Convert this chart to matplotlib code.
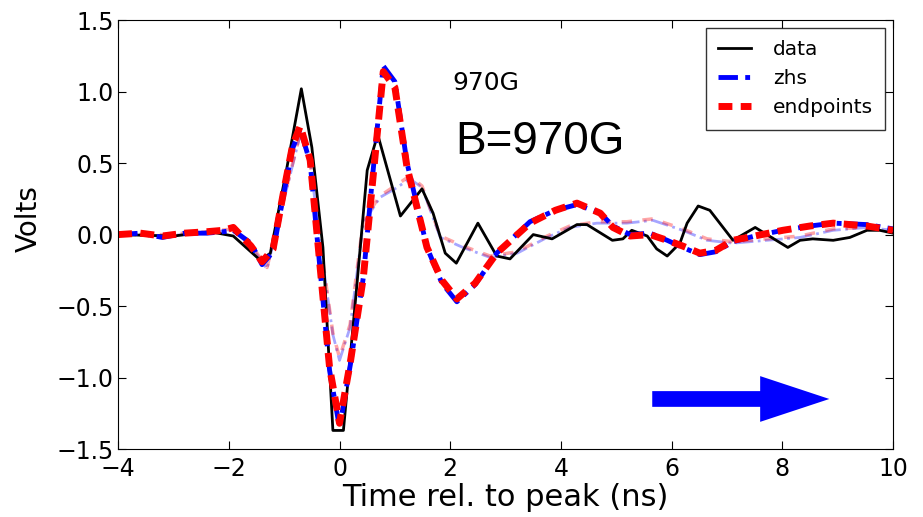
import matplotlib
matplotlib.use("Agg")
import matplotlib.pyplot as plt
from matplotlib.patches import FancyArrow

# measured pulse
t_data = [-4.0, -3.0, -2.34, -1.92, -1.43, -1.25, -0.95, -0.69, -0.5, -0.3, -0.12, 0.07,
          0.3, 0.5, 0.69, 1.1, 1.49, 1.69, 1.91, 2.11, 2.5, 2.84, 3.08, 3.5, 3.84,
          4.29, 4.47, 4.93, 5.12, 5.28, 5.56, 5.73, 5.92, 6.15, 6.28, 6.48, 6.69,
          7.11, 7.51, 8.1, 8.32, 8.55, 8.92, 9.22, 9.53, 9.76, 10.0]
v_data = [0.0, -0.01, 0.02, -0.01, -0.18, -0.13, 0.47, 1.02, 0.61, -0.09, -1.37, -1.37,
          -0.41, 0.45, 0.7, 0.13, 0.32, 0.15, -0.13, -0.2, 0.08, -0.15, -0.17, 0.0, -0.03,
          0.07, 0.07, -0.04, -0.03, 0.03, -0.01, -0.1, -0.15, -0.06, 0.08, 0.2, 0.17,
          -0.04, 0.05, -0.09, -0.04, -0.03, -0.04, -0.02, 0.03, 0.03, 0.01]

# simulations at B=970G
t_sim = [-4.0, -3.6, -3.2, -2.8, -2.4, -2.1, -1.92, -1.6, -1.4, -1.2, -1.02, -0.85,
         -0.71, -0.53, -0.35, -0.18, 0.0, 0.2, 0.43, 0.6, 0.79, 1.0, 1.22, 1.58, 1.85,
         2.12, 2.45, 2.84, 3.44, 3.9, 4.29, 4.71, 4.94, 5.25, 5.61, 5.92, 6.2, 6.51,
         6.8, 7.11, 7.5, 8.01, 8.5, 8.92, 9.53, 10.0]
v_zhs = [0.0, 0.01, -0.02, 0.01, 0.01, 0.02, 0.03, -0.06, -0.21, -0.12, 0.26, 0.6,
         0.74, 0.5, -0.25, -0.95, -1.35, -0.9, -0.3, 0.42, 1.18, 1.07, 0.5, -0.09, -0.34,
         -0.47, -0.35, -0.13, 0.09, 0.17, 0.21, 0.15, 0.06, 0.0, 0.01, -0.04, -0.09, -0.14,
         -0.12, -0.05, -0.01, 0.03, 0.06, 0.08, 0.07, 0.04]
v_end = [0.0, 0.01, -0.01, 0.01, 0.02, 0.03, 0.05, -0.08, -0.19, -0.1, 0.28, 0.62,
         0.76, 0.52, -0.23, -0.93, -1.32, -0.88, -0.3, 0.38, 1.14, 1.03, 0.47, -0.09, -0.32,
         -0.45, -0.34, -0.13, 0.08, 0.17, 0.22, 0.15, 0.05, -0.01, 0.0, -0.04, -0.08, -0.13,
         -0.11, -0.04, -0.01, 0.03, 0.06, 0.08, 0.06, 0.03]

# simulations, second set (faint)
t_sim2 = [-4.0, -3.2, -2.4, -1.92, -1.6, -1.31, -1.0, -0.71, -0.53, -0.3, -0.12, 0.0,
          0.19, 0.43, 0.73, 1.0, 1.27, 1.49, 1.82, 2.23, 2.72, 3.21, 3.75, 4.16, 4.65,
          5.19, 5.66, 6.2, 6.64, 7.11, 7.72, 8.32, 8.92, 9.53, 10.0]
v_zhs2 = [0.0, -0.01, 0.01, 0.03, -0.08, -0.24, 0.25, 0.7, 0.5, -0.2, -0.7, -0.88,
          -0.65, 0.08, 0.26, 0.32, 0.39, 0.33, -0.02, -0.09, -0.16, -0.13, -0.02, 0.05, 0.08,
          0.08, 0.1, 0.03, -0.04, -0.06, -0.04, -0.02, 0.03, 0.05, 0.03]
v_end2 = [0.0, 0.0, 0.02, 0.04, -0.07, -0.23, 0.26, 0.71, 0.51, -0.19, -0.69, -0.86,
          -0.63, 0.1, 0.27, 0.34, 0.41, 0.34, -0.01, -0.08, -0.15, -0.12, -0.01, 0.06, 0.09,
          0.09, 0.11, 0.04, -0.03, -0.05, -0.03, -0.01, 0.04, 0.05, 0.03]

fig = plt.figure(figsize=(9.23, 5.17), dpi=100)
ax = fig.add_axes([0.128, 0.1315, 0.8395, 0.8295])

ax.plot(t_sim2, v_zhs2, color="blue", lw=2, ls="-.", alpha=0.35)
ax.plot(t_sim2, v_end2, color="red", lw=2.5, ls="--", dashes=(3, 3), alpha=0.35)
ax.plot(t_data, v_data, color="black", lw=2, label="data")
ax.plot(t_sim, v_zhs, color="blue", lw=3.5, ls="-.", dashes=(4, 1.5, 1, 1.5),
        label="zhs")
ax.plot(t_sim, v_end, color="red", lw=5, ls="--", dashes=(2, 1.2), label="endpoints")

ax.set_xlim(-4, 10)
ax.set_ylim(-1.5, 1.5)
ax.set_xticks(range(-4, 11, 2))
ax.set_yticks([-1.5, -1.0, -0.5, 0.0, 0.5, 1.0, 1.5])
ax.tick_params(direction="in", top=True, right=True, labelsize=17, length=6)
ax.tick_params(axis="x", pad=6)
ax.tick_params(axis="y", pad=3)
ax.set_xlabel("Time rel. to peak (ns)", fontsize=22, labelpad=1)
ax.set_ylabel("Volts", fontsize=20)
ax.yaxis.set_label_coords(-0.097, 0.538)

ax.text(2.03, 1.01, "970G", fontsize=18)
ax.text(2.09, 0.566, "B=970G", fontsize=33, family="Liberation Sans")

ax.add_patch(FancyArrow(5.65, -1.15, 3.2, 0, width=0.11, head_width=0.32,
                        head_length=1.25, length_includes_head=True,
                        color="blue", lw=0))

leg = ax.legend(loc="upper right", fontsize=14.5, fancybox=False, handlelength=1.6,
                handletextpad=1.1, borderpad=0.6, borderaxespad=0.4)
leg.get_frame().set_edgecolor("black")

fig.savefig("out.png", dpi=100)
